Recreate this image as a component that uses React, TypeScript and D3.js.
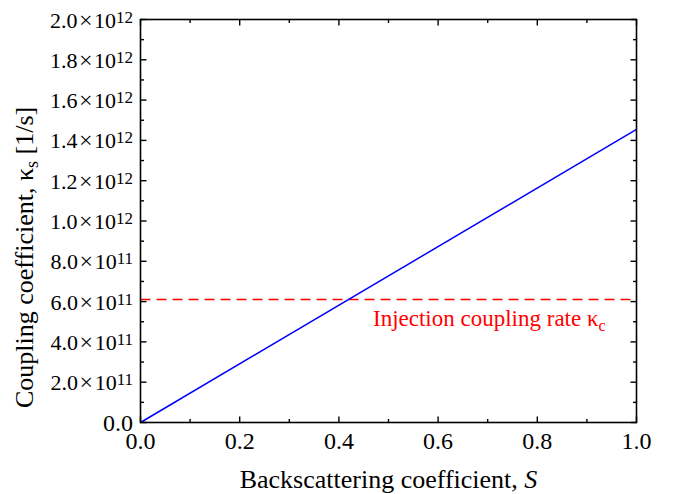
import React from "react";
import * as d3 from "d3";

// Coupling coefficient vs. backscattering coefficient (linear relation)
const sValues = [0, 1];
const kappaValues = [0, 1.455e12];
const injectionRate = 6.1e11;
const xMajorTicks = [0, 0.2, 0.4, 0.6, 0.8, 1.0];
const yMajorTicks = [0, 2e11, 4e11, 6e11, 8e11, 1e12, 1.2e12, 1.4e12, 1.6e12, 1.8e12, 2e12];

const W = 680;
const H = 494;
const M = { left: 140.5, right: 636.5, top: 19.5, bottom: 422.5 };
const FONT = "'Liberation Serif', 'Times New Roman', serif";

function yLabel(v: number) {
  if (v === 0) return { mant: "0.0", exp: null as string | null };
  const e = Math.floor(Math.log10(v) + 1e-9);
  const m = v / Math.pow(10, e);
  return { mant: m.toFixed(1), exp: String(e) };
}

export default function App() {
  const x = d3.scaleLinear().domain([0, 1]).range([M.left, M.right]);
  const y = d3.scaleLinear().domain([0, 2e12]).range([M.bottom, M.top]);

  const xMinor = d3.range(0, 1.0001, 0.1);
  const yMinor = d3.range(0, 2.0001e12, 1e11);

  const line = d3
    .line<number>()
    .x((_, i) => x(sValues[i]))
    .y((d) => y(d));

  const majorLen = 6;
  const minorLen = 3.5;

  return (
    <svg width={W} height={H} style={{ display: "block", position: "absolute", left: 0, top: 0 }} fontFamily={FONT}>
      <rect width={W} height={H} fill="#fff" />

      {/* data lines */}
      <line
        x1={M.left}
        x2={M.right}
        y1={y(injectionRate)}
        y2={y(injectionRate)}
        stroke="#ff0000"
        strokeWidth={1.5}
        strokeDasharray="10,6"
      />
      <path d={line(kappaValues) || ""} fill="none" stroke="#0000ff" strokeWidth={1.5} />

      {/* frame */}
      <rect
        x={M.left}
        y={M.top}
        width={M.right - M.left}
        height={M.bottom - M.top}
        fill="none"
        stroke="#000"
        strokeWidth={1.6}
      />

      {/* x ticks (bottom and top, inward) */}
      {xMinor.map((v, i) => {
        const isMajor = i % 2 === 0;
        const len = isMajor ? majorLen : minorLen;
        return (
          <g key={"xt" + i}>
            <line x1={x(v)} x2={x(v)} y1={M.bottom} y2={M.bottom - len} stroke="#000" strokeWidth={1.4} />
            <line x1={x(v)} x2={x(v)} y1={M.top} y2={M.top + len} stroke="#000" strokeWidth={1.4} />
          </g>
        );
      })}
      {/* y ticks (left and right, inward) */}
      {yMinor.map((v, i) => {
        const isMajor = i % 2 === 0;
        const len = isMajor ? majorLen : minorLen;
        return (
          <g key={"yt" + i}>
            <line x1={M.left} x2={M.left + len} y1={y(v)} y2={y(v)} stroke="#000" strokeWidth={1.4} />
            <line x1={M.right} x2={M.right - len} y1={y(v)} y2={y(v)} stroke="#000" strokeWidth={1.4} />
          </g>
        );
      })}

      {/* x tick labels */}
      {xMajorTicks.map((v) => (
        <text key={"xl" + v} x={x(v)} y={449} textAnchor="middle" fontSize={24} fill="#000">
          {v.toFixed(1)}
        </text>
      ))}

      {/* y tick labels: mantissa × 10^exp */}
      {yMajorTicks.map((v) => {
        const l = yLabel(v);
        return (
          <text key={"yl" + v} x={133} y={y(v) + 8} textAnchor="end" fontSize={v === 0 ? 24 : 22} fill="#000">
            {l.mant}
            {l.exp && (
              <>
                <tspan dx={1.5} fontSize={24}>×</tspan>
                <tspan dx={1.5}>10</tspan>
                <tspan fontSize={17} dy={-5}>
                  {l.exp}
                </tspan>
              </>
            )}
          </text>
        );
      })}

      {/* axis titles */}
      <text x={(M.left + M.right) / 2} y={488} textAnchor="middle" fontSize={26} fill="#000">
        Backscattering coefficient, <tspan fontStyle="italic">S</tspan>
      </text>
      <text
        transform={`translate(33, 408) rotate(-90)`}
        textAnchor="start"
        fontSize={26}
        fill="#000"
      >
        Coupling coefficient, κ<tspan fontSize={18} dy={5}>s</tspan>
        <tspan dy={-5}> [1/s]</tspan>
      </text>

      {/* annotation */}
      <text x={373} y={326} fontSize={23} fill="#ff0000">
        Injection coupling rate κ<tspan fontSize={16} dy={5}>c</tspan>
      </text>
    </svg>
  );
}
